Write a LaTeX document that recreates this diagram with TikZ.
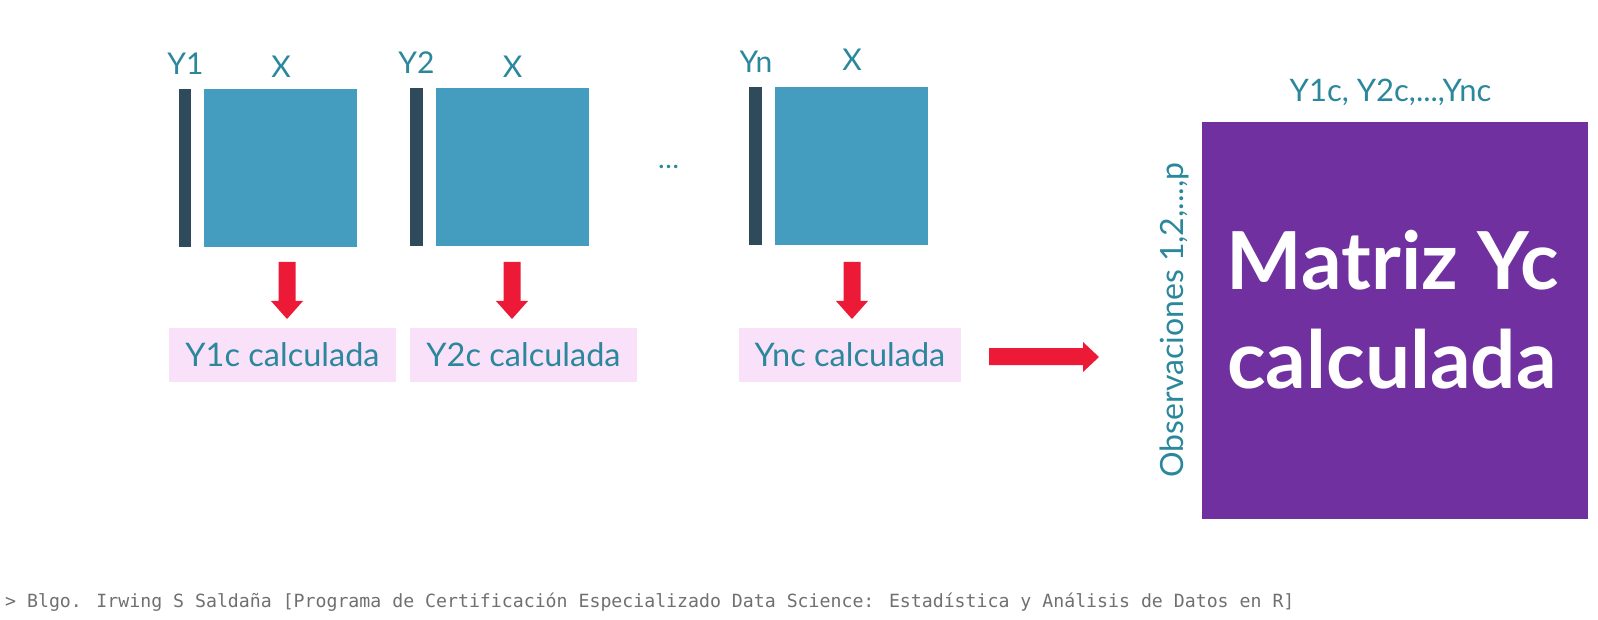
\documentclass[tikz,border=0pt]{standalone}
\usepackage{fontspec}
\setmainfont{Lato}
\newfontfamily\footfont{DejaVu Sans Mono}
\definecolor{tealtext}{HTML}{2B879B}
\definecolor{boxblue}{HTML}{449DBF}
\definecolor{bardark}{HTML}{2E4A5B}
\definecolor{pinkbg}{HTML}{F9E1FA}
\definecolor{arrowred}{HTML}{EC1A37}
\definecolor{purplebg}{HTML}{7030A0}
\definecolor{footgray}{HTML}{707070}
\newcommand{\blockdown}[2]{%
  \begin{scope}[shift={(#1,0)}]
    \fill[arrowred] (-8.5,262) -- (8.5,262) -- (8.5,301) -- (16,301) -- (0,319) -- (-16,301) -- (-8.5,301) -- cycle;
    \coordinate (#2) at (0,290);
  \end{scope}}
\tikzset{
  ybar/.style={fill=bardark, inner sep=0pt, minimum width=12.5pt, minimum height=158pt},
  xbox/.style={fill=boxblue, inner sep=0pt, minimum width=153pt, minimum height=158pt},
  ycbox/.style={fill=pinkbg, inner sep=0pt, minimum height=54pt, text=tealtext, font=\fontsize{32.5}{40}\selectfont},
  lbl/.style={anchor=base, inner sep=0pt, text=tealtext, font=\fontsize{30}{36}\selectfont},
  bigtxt/.style={anchor=base, inner sep=0pt, text=white, font=\fontsize{80}{96}\selectfont\bfseries},
}
\begin{document}
\begin{tikzpicture}[x=1pt,y=-1pt]
\useasboundingbox (0,0) rectangle (1598,620);
% matrices
\node[ybar] (bar1) at (185,168.5) {};
\node[xbox] (box1) at (280.5,168.5) {};
\node[ybar] (bar2) at (416.5,167) {};
\node[xbox] (box2) at (512.5,167) {};
\node[ybar] (barn) at (755.5,166) {};
\node[xbox] (boxn) at (851.5,166) {};
% labels
\node[lbl] (ly1) at (185.5,75) {Y1};
\node[lbl] (lx1) at (281,78) {X};
\node[lbl] (ly2) at (416.5,74) {Y2};
\node[lbl] (lx2) at (512.5,78) {X};
\node[lbl] (lyn) at (756,73) {Yn};
\node[lbl] (lxn) at (852,71) {X};
\node[lbl, font=\fontsize{28}{34}\selectfont] (dots) at (668.5,169) {…};
% computed boxes
\node[ycbox, minimum width=227pt] (c1) at (282.5,355) {Y1c calculada};
\node[ycbox, minimum width=227pt] (c2) at (523.5,355) {Y2c calculada};
\node[ycbox, minimum width=222pt] (cn) at (850,355) {Ync calculada};
% down arrows
\blockdown{287}{a1}
\blockdown{512}{a2}
\blockdown{852}{an}
% right arrow
\fill[arrowred] (989,348) -- (1083,348) -- (1083,342) -- (1099,357) -- (1083,372) -- (1083,365) -- (989,365) -- cycle;
% result matrix
\node[fill=purplebg, inner sep=0pt, minimum width=386pt, minimum height=397pt] (res) at (1395,320.5) {};
\node[bigtxt] (m1) at (1393,290) {Matriz Yc};
\node[bigtxt] (m2) at (1392,388) {calculada};
\node[lbl, font=\fontsize{31}{37}\selectfont] (cols) at (1390.5,102) {Y1c, Y2c,...,Ync};
\node[lbl, font=\fontsize{32}{38}\selectfont, rotate=90] (rows) at (1183,320) {Observaciones 1,2,...,p};
% footer
\node[anchor=base west, inner sep=0pt, text=footgray, font=\footfont\fontsize{18.2}{22}\selectfont] (foot) at (5,607) {> Blgo. Irwing S Saldaña [Programa de Certificación Especializado Data Science: Estadística y Análisis de Datos en R]};
\end{tikzpicture}
\end{document}
